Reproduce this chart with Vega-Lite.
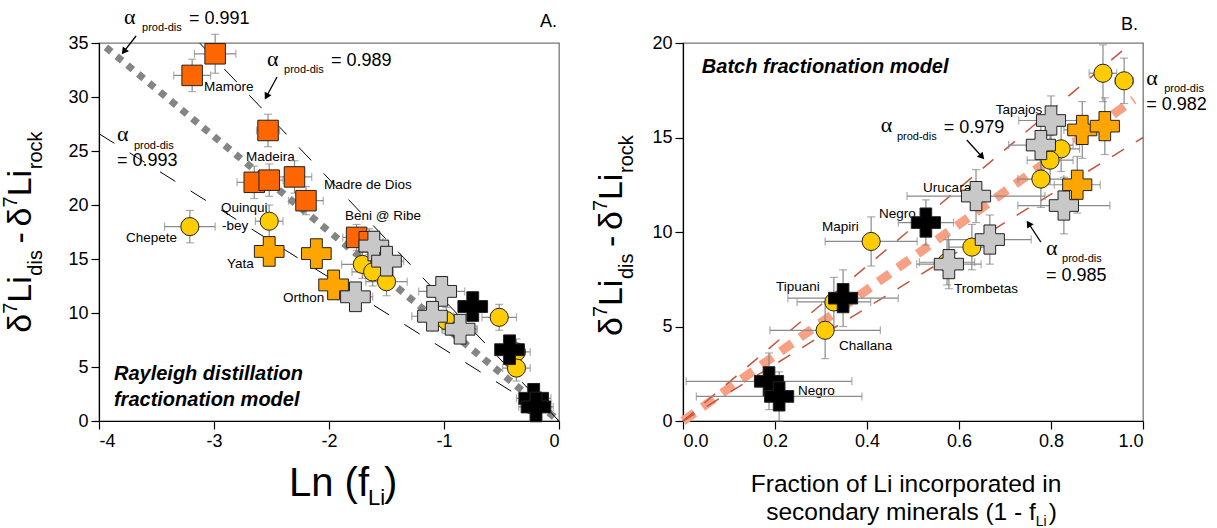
{
"$schema": "https://vega.github.io/schema/vega-lite/v6.json",
"background": "white",
"padding": {"left": 0, "top": 5, "right": 5, "bottom": 0},
"config": {
  "font": "Liberation Sans",
  "view": {"stroke": "#777777", "strokeWidth": 1.3},
  "axis": {"grid": false, "domainColor": "black", "domainWidth": 1.2, "tickColor": "black", "tickWidth": 1.2, "tickSize": 8, "labelFont": "Liberation Sans", "labelFontSize": 18, "labelColor": "black", "labelPadding": 3}
},
"datasets": {
  "ptsA": [
    {"g":"sq","x":-3.19,"y":32.0,"ex":0.16,"ey":1.5},
    {"g":"sq","x":-2.99,"y":34.0,"ex":0.18,"ey":1.8},
    {"g":"sq","x":-2.53,"y":26.9,"ex":0.1,"ey":1.5},
    {"g":"sq","x":-2.65,"y":22.1,"ex":0.15,"ey":1.5},
    {"g":"sq","x":-2.52,"y":22.3,"ex":0.12,"ey":1.5},
    {"g":"sq","x":-2.30,"y":22.6,"ex":0.15,"ey":1.5},
    {"g":"sq","x":-2.20,"y":20.4,"ex":0.15,"ey":1.3},
    {"g":"sq","x":-1.76,"y":17.0,"ex":0.12,"ey":1.2},
    {"g":"sq","x":-1.65,"y":16.6,"ex":0.12,"ey":1.2},
    {"g":"ci","x":-3.21,"y":18.0,"ex":0.22,"ey":1.5},
    {"g":"ci","x":-2.52,"y":18.5,"ex":0.12,"ey":1.5},
    {"g":"ci","x":-1.71,"y":14.5,"ex":0.18,"ey":1.3},
    {"g":"ci","x":-1.62,"y":13.8,"ex":0.18,"ey":1.3},
    {"g":"ci","x":-1.50,"y":12.9,"ex":0.18,"ey":1.3},
    {"g":"ci","x":-0.98,"y":9.3,"ex":0.15,"ey":1.2},
    {"g":"ci","x":-0.87,"y":8.5,"ex":0.15,"ey":1.2},
    {"g":"ci","x":-0.52,"y":9.6,"ex":0.15,"ey":1.2},
    {"g":"ci","x":-0.37,"y":6.4,"ex":0.12,"ey":1.2},
    {"g":"ci","x":-0.37,"y":4.9,"ex":0.12,"ey":1.2},
    {"g":"oc","x":-2.52,"y":15.7,"ex":0.1,"ey":1.2},
    {"g":"oc","x":-2.11,"y":15.5,"ex":0.12,"ey":1.2},
    {"g":"oc","x":-1.96,"y":12.6,"ex":0.1,"ey":1.2},
    {"g":"gc","x":-1.77,"y":11.5,"ex":0.15,"ey":1.2},
    {"g":"gc","x":-1.61,"y":16.2,"ex":0.12,"ey":1.3},
    {"g":"gc","x":-1.50,"y":14.8,"ex":0.15,"ey":1.3},
    {"g":"gc","x":-1.02,"y":12.0,"ex":0.2,"ey":1.3},
    {"g":"gc","x":-1.10,"y":9.7,"ex":0.18,"ey":1.3},
    {"g":"gc","x":-0.86,"y":8.5,"ex":0.15,"ey":1.3},
    {"g":"bc","x":-0.75,"y":10.6,"ex":0.12,"ey":1.2},
    {"g":"bc","x":-0.43,"y":6.6,"ex":0.12,"ey":1.2},
    {"g":"bc","x":-0.22,"y":2.1,"ex":0.15,"ey":1.2},
    {"g":"bc","x":-0.20,"y":1.3,"ex":0.15,"ey":1.2}
  ],
  "ptsB": [
    {"g":"ci","x":0.913,"y":18.4,"ex":0.03,"ey":1.5},
    {"g":"ci","x":0.959,"y":18.0,"ex":0.02,"ey":1.2},
    {"g":"ci","x":0.822,"y":14.4,"ex":0.04,"ey":1.2},
    {"g":"ci","x":0.798,"y":13.8,"ex":0.05,"ey":1.3},
    {"g":"ci","x":0.778,"y":12.8,"ex":0.05,"ey":1.5},
    {"g":"ci","x":0.628,"y":9.2,"ex":0.05,"ey":1.2},
    {"g":"ci","x":0.574,"y":8.4,"ex":0.06,"ey":1.2},
    {"g":"ci","x":0.409,"y":9.5,"ex":0.10,"ey":1.3},
    {"g":"ci","x":0.328,"y":6.3,"ex":0.08,"ey":1.3},
    {"g":"ci","x":0.309,"y":4.8,"ex":0.12,"ey":1.5},
    {"g":"gc","x":0.80,"y":15.9,"ex":0.07,"ey":1.3},
    {"g":"gc","x":0.778,"y":14.6,"ex":0.07,"ey":1.3},
    {"g":"gc","x":0.637,"y":11.9,"ex":0.15,"ey":1.4},
    {"g":"gc","x":0.828,"y":11.4,"ex":0.10,"ey":1.5},
    {"g":"gc","x":0.667,"y":9.6,"ex":0.09,"ey":1.3},
    {"g":"gc","x":0.578,"y":8.3,"ex":0.07,"ey":1.3},
    {"g":"oc","x":0.868,"y":15.4,"ex":0.04,"ey":1.5},
    {"g":"oc","x":0.917,"y":15.6,"ex":0.03,"ey":1.5},
    {"g":"oc","x":0.857,"y":12.5,"ex":0.05,"ey":1.5},
    {"g":"bc","x":0.528,"y":10.5,"ex":0.06,"ey":1.2},
    {"g":"bc","x":0.348,"y":6.5,"ex":0.12,"ey":1.5},
    {"g":"bc","x":0.187,"y":2.1,"ex":0.18,"ey":1.5},
    {"g":"bc","x":0.209,"y":1.3,"ex":0.18,"ey":1.3}
  ],
  "linesA": [
    {"k":"ray","x":-3.94,"y":34.6},{"k":"ray","x":0,"y":0},
    {"k":"up","x":-3.125,"y":35},{"k":"up","x":0,"y":0},
    {"k":"lo","x":-4,"y":26.6},{"k":"lo","x":0,"y":0}
  ],
  "linesB": [
    {"k":"mid","x":0,"y":0},{"k":"mid","x":0.98,"y":17.0},
    {"k":"up","x":0,"y":0},{"k":"up","x":0.975,"y":20},
    {"k":"lo","x":0,"y":0},{"k":"lo","x":1.0,"y":15}
  ],
  "labA": [
    {"t":"Mamore","x":-3.087,"y":30.55},
    {"t":"Madeira","x":-2.722,"y":24.05},
    {"t":"Madre de Dios","x":-2.043,"y":21.45},
    {"t":"Beni @ Ribe","x":-1.861,"y":18.57},
    {"t":"Quinqui","x":-2.939,"y":19.31},
    {"t":"-bey","x":-2.930,"y":17.73},
    {"t":"Chepete","x":-3.765,"y":16.53},
    {"t":"Yata","x":-2.887,"y":14.21},
    {"t":"Orthon","x":-2.400,"y":11.05}
  ],
  "labB": [
    {"t":"Tapajos","x":0.680,"y":16.24},
    {"t":"Urucara","x":0.522,"y":12.12},
    {"t":"Negro","x":0.426,"y":10.74},
    {"t":"Mapiri","x":0.302,"y":10.05},
    {"t":"Tipuani","x":0.202,"y":6.88},
    {"t":"Challana","x":0.339,"y":3.76},
    {"t":"Trombetas","x":0.589,"y":6.77},
    {"t":"Negro","x":0.25,"y":1.38}
  ],
  "annA": [
    {"k":"a","t":"α","x":-3.783,"y":36.77},
    {"k":"a","t":"α","x":-2.539,"y":32.87},
    {"k":"a","t":"α","x":-3.843,"y":25.9},
    {"k":"s","t":"prod-dis","x":-3.626,"y":36.12},
    {"k":"s","t":"prod-dis","x":-2.391,"y":32.22},
    {"k":"s","t":"prod-dis","x":-3.696,"y":25.16},
    {"k":"v","t":"= 0.991","x":-3.217,"y":36.77},
    {"k":"v","t":"= 0.989","x":-1.983,"y":32.87},
    {"k":"v","t":"= 0.993","x":-3.843,"y":23.58},
    {"k":"m","t":"Rayleigh distillation","x":-3.870,"y":3.81},
    {"k":"m","t":"fractionation model","x":-3.870,"y":1.39},
    {"k":"L","t":"A.","x":-0.017,"y":36.49},
    {"k":"xb","t":"Ln (f","x":-2.348,"y":-6.96},
    {"k":"xb","t":")","x":-1.522,"y":-6.96},
    {"k":"xs","t":"Li","x":-1.661,"y":-7.80},
    {"k":"yb","t":"δ","x":-4.591,"y":8.17},
    {"k":"yb","t":"Li","x":-4.591,"y":10.96},
    {"k":"yb","t":"-","x":-4.591,"y":16.43},
    {"k":"yb","t":"δ","x":-4.591,"y":18.01},
    {"k":"yb","t":"Li","x":-4.591,"y":20.80},
    {"k":"ys","t":"dis","x":-4.496,"y":13.46},
    {"k":"ys","t":"rock","x":-4.496,"y":23.31},
    {"k":"ys","t":"7","x":-4.713,"y":9.94},
    {"k":"ys","t":"7","x":-4.713,"y":19.78}
  ],
  "annB": [
    {"k":"a","t":"α","x":0.430,"y":15.29},
    {"k":"a","t":"α","x":0.789,"y":8.78},
    {"k":"a","t":"α","x":1.007,"y":17.78},
    {"k":"s","t":"prod-dis","x":0.465,"y":14.87},
    {"k":"s","t":"prod-dis","x":0.824,"y":8.41},
    {"k":"s","t":"prod-dis","x":1.046,"y":17.41},
    {"k":"v","t":"= 0.979","x":0.567,"y":15.24},
    {"k":"v","t":"= 0.985","x":0.789,"y":7.41},
    {"k":"v","t":"= 0.982","x":1.007,"y":16.46},
    {"k":"m","t":"Batch fractionation model","x":0.041,"y":18.41},
    {"k":"L","t":"B.","x":0.952,"y":20.69},
    {"k":"x1","t":"Fraction of Li incorporated in","x":0.4848,"y":-3.76},
    {"k":"x2","t":"secondary minerals (1 - f","x":0.767,"y":-5.24},
    {"k":"xs","t":"Li","x":0.767,"y":-5.55},
    {"k":"x3","t":")","x":0.795,"y":-5.24},
    {"k":"yb","t":"δ","x":-0.1326,"y":4.50},
    {"k":"yb","t":"Li","x":-0.1326,"y":6.08},
    {"k":"yb","t":"-","x":-0.1326,"y":9.21},
    {"k":"yb","t":"δ","x":-0.1326,"y":10.11},
    {"k":"yb","t":"Li","x":-0.1326,"y":11.69},
    {"k":"ys","t":"dis","x":-0.1087,"y":7.51},
    {"k":"ys","t":"rock","x":-0.1087,"y":13.12},
    {"k":"ys","t":"7","x":-0.165,"y":5.50},
    {"k":"ys","t":"7","x":-0.165,"y":11.11}
  ],
  "arrA": [
    {"x":-3.678,"y":35.65,"x2":-3.784,"y2":34.21},
    {"x":-2.452,"y":31.85,"x2":-2.544,"y2":30.05}
  ],
  "arrB": [
    {"x":0.617,"y":14.87,"x2":0.650,"y2":13.98},
    {"x":0.778,"y":9.47,"x2":0.7513,"y2":10.45}
  ]
},
"resolve": {"scale": {"x": "independent", "y": "independent"}},
"bounds": "flush",
"spacing": 124,
"hconcat": [
  {
    "width": 460, "height": 378,
    "layer": [
      {"data": {"name": "linesA"}, "transform": [{"filter": "datum.k == 'ray'"}],
       "mark": {"type": "line", "color": "#858585", "strokeWidth": 7, "strokeDash": [7, 7]},
       "encoding": {
         "x": {"field": "x", "type": "quantitative", "title": null, "scale": {"domain": [-4, 0], "nice": false, "zero": false},
               "axis": {"values": [-4, -3, -2, -1, 0], "labelExpr": "datum.value < 0 ? '-' + abs(datum.value) : '' + datum.value"}},
         "y": {"field": "y", "type": "quantitative", "title": null, "scale": {"domain": [0, 35], "nice": false, "zero": false},
               "axis": {"values": [0, 5, 10, 15, 20, 25, 30, 35]}}
       }},
      {"data": {"name": "linesA"}, "transform": [{"filter": "datum.k != 'ray'"}],
       "mark": {"type": "line", "color": "black", "strokeWidth": 1, "strokeDash": [18, 18]},
       "encoding": {"x": {"field": "x", "type": "quantitative", "title": null}, "y": {"field": "y", "type": "quantitative", "title": null}, "detail": {"field": "k"}}},
      {"data": {"name": "labA"},
       "mark": {"type": "text", "align": "left", "baseline": "alphabetic", "fontSize": 13.5, "color": "black"},
       "encoding": {"x": {"field": "x", "type": "quantitative", "title": null}, "y": {"field": "y", "type": "quantitative", "title": null}, "text": {"field": "t"}}},
      {"data": {"name": "ptsA"},
       "mark": {"type": "errorbar", "ticks": {"size": 8}, "color": "#8a8a8a", "thickness": 1.2},
       "encoding": {"x": {"field": "x", "type": "quantitative", "title": null}, "xError": {"field": "ex"}, "y": {"field": "y", "type": "quantitative", "title": null}}},
      {"data": {"name": "ptsA"},
       "mark": {"type": "errorbar", "ticks": {"size": 8}, "color": "#8a8a8a", "thickness": 1.2},
       "encoding": {"y": {"field": "y", "type": "quantitative", "title": null}, "yError": {"field": "ey"}, "x": {"field": "x", "type": "quantitative", "title": null}}},
      {"data": {"name": "ptsA"}, "transform": [{"filter": "datum.g == 'sq'"}],
       "mark": {"type": "point", "shape": "square", "filled": true, "color": "#ff6600", "stroke": "#222222", "strokeWidth": 1, "opacity": 1, "size": 420},
       "encoding": {"x": {"field": "x", "type": "quantitative", "title": null}, "y": {"field": "y", "type": "quantitative", "title": null}}},
      {"data": {"name": "ptsA"}, "transform": [{"filter": "datum.g == 'ci'"}],
       "mark": {"type": "point", "shape": "circle", "filled": true, "color": "#ffcc00", "stroke": "#222222", "strokeWidth": 1, "opacity": 1, "size": 330},
       "encoding": {"x": {"field": "x", "type": "quantitative", "title": null}, "y": {"field": "y", "type": "quantitative", "title": null}}},
      {"data": {"name": "ptsA"}, "transform": [{"filter": "datum.g == 'oc' || datum.g == 'gc' || datum.g == 'bc'"}],
       "mark": {"type": "point", "shape": "cross", "filled": true, "stroke": "#222222", "strokeWidth": 1, "opacity": 1, "size": 880},
       "encoding": {"x": {"field": "x", "type": "quantitative", "title": null}, "y": {"field": "y", "type": "quantitative", "title": null},
                    "fill": {"field": "g", "type": "nominal", "scale": {"domain": ["oc", "gc", "bc"], "range": ["#ffa500", "#c8c8c8", "#000000"]}, "legend": null}}},
      {"data": {"name": "arrA"},
       "mark": {"type": "rule", "color": "black", "strokeWidth": 1.3},
       "encoding": {"x": {"field": "x", "type": "quantitative", "title": null}, "y": {"field": "y", "type": "quantitative", "title": null}, "x2": {"field": "x2"}, "y2": {"field": "y2"}}},
      {"data": {"values": [{}]},
       "mark": {"type": "point", "shape": "triangle-up", "angle": 218, "filled": true, "color": "black", "opacity": 1, "size": 60},
       "encoding": {"x": {"datum": -3.784}, "y": {"datum": 34.21}}},
      {"data": {"values": [{}]},
       "mark": {"type": "point", "shape": "triangle-up", "angle": 208.6, "filled": true, "color": "black", "opacity": 1, "size": 60},
       "encoding": {"x": {"datum": -2.544}, "y": {"datum": 30.05}}},
      {"data": {"name": "annA"}, "transform": [{"filter": "datum.k == 'a'"}],
       "mark": {"type": "text", "align": "left", "baseline": "alphabetic", "font": "Liberation Serif", "fontSize": 22, "color": "black"},
       "encoding": {"x": {"field": "x", "type": "quantitative", "title": null}, "y": {"field": "y", "type": "quantitative", "title": null}, "text": {"field": "t"}}},
      {"data": {"name": "annA"}, "transform": [{"filter": "datum.k == 's'"}],
       "mark": {"type": "text", "align": "left", "baseline": "alphabetic", "fontSize": 11, "color": "black"},
       "encoding": {"x": {"field": "x", "type": "quantitative", "title": null}, "y": {"field": "y", "type": "quantitative", "title": null}, "text": {"field": "t"}}},
      {"data": {"name": "annA"}, "transform": [{"filter": "datum.k == 'v'"}],
       "mark": {"type": "text", "align": "left", "baseline": "alphabetic", "fontSize": 18, "color": "black"},
       "encoding": {"x": {"field": "x", "type": "quantitative", "title": null}, "y": {"field": "y", "type": "quantitative", "title": null}, "text": {"field": "t"}}},
      {"data": {"name": "annA"}, "transform": [{"filter": "datum.k == 'm'"}],
       "mark": {"type": "text", "align": "left", "baseline": "alphabetic", "fontSize": 20, "fontWeight": "bold", "fontStyle": "italic", "color": "black"},
       "encoding": {"x": {"field": "x", "type": "quantitative", "title": null}, "y": {"field": "y", "type": "quantitative", "title": null}, "text": {"field": "t"}}},
      {"data": {"name": "annA"}, "transform": [{"filter": "datum.k == 'L'"}],
       "mark": {"type": "text", "align": "right", "baseline": "alphabetic", "fontSize": 18, "color": "black"},
       "encoding": {"x": {"field": "x", "type": "quantitative", "title": null}, "y": {"field": "y", "type": "quantitative", "title": null}, "text": {"field": "t"}}},
      {"data": {"name": "annA"}, "transform": [{"filter": "datum.k == 'xb'"}],
       "mark": {"type": "text", "align": "left", "baseline": "alphabetic", "fontSize": 40, "color": "black"},
       "encoding": {"x": {"field": "x", "type": "quantitative", "title": null}, "y": {"field": "y", "type": "quantitative", "title": null}, "text": {"field": "t"}}},
      {"data": {"name": "annA"}, "transform": [{"filter": "datum.k == 'xs'"}],
       "mark": {"type": "text", "align": "left", "baseline": "alphabetic", "fontSize": 22, "color": "black"},
       "encoding": {"x": {"field": "x", "type": "quantitative", "title": null}, "y": {"field": "y", "type": "quantitative", "title": null}, "text": {"field": "t"}}},
      {"data": {"name": "annA"}, "transform": [{"filter": "datum.k == 'yb'"}],
       "mark": {"type": "text", "align": "left", "baseline": "alphabetic", "angle": 270, "fontSize": 34, "color": "black"},
       "encoding": {"x": {"field": "x", "type": "quantitative", "title": null}, "y": {"field": "y", "type": "quantitative", "title": null}, "text": {"field": "t"}}},
      {"data": {"name": "annA"}, "transform": [{"filter": "datum.k == 'ys'"}],
       "mark": {"type": "text", "align": "left", "baseline": "alphabetic", "angle": 270, "fontSize": 20, "color": "black"},
       "encoding": {"x": {"field": "x", "type": "quantitative", "title": null}, "y": {"field": "y", "type": "quantitative", "title": null}, "text": {"field": "t"}}}
    ]
  },
  {
    "width": 460, "height": 378,
    "layer": [
      {"data": {"name": "linesB"}, "transform": [{"filter": "datum.k == 'mid'"}],
       "mark": {"type": "line", "color": "#f8a083", "strokeWidth": 9, "strokeDash": [14, 10]},
       "encoding": {
         "x": {"field": "x", "type": "quantitative", "title": null, "scale": {"domain": [0, 1], "nice": false, "zero": false},
               "axis": {"values": [0, 0.2, 0.4, 0.6, 0.8, 1.0], "format": ".1f"}},
         "y": {"field": "y", "type": "quantitative", "title": null, "scale": {"domain": [0, 20], "nice": false, "zero": false},
               "axis": {"values": [0, 5, 10, 15, 20]}}
       }},
      {"data": {"name": "linesB"}, "transform": [{"filter": "datum.k != 'mid'"}],
       "mark": {"type": "line", "color": "#c4553f", "strokeWidth": 1.5, "strokeDash": [14, 14]},
       "encoding": {"x": {"field": "x", "type": "quantitative", "title": null}, "y": {"field": "y", "type": "quantitative", "title": null}, "detail": {"field": "k"}}},
      {"data": {"name": "labB"},
       "mark": {"type": "text", "align": "left", "baseline": "alphabetic", "fontSize": 13.5, "color": "black"},
       "encoding": {"x": {"field": "x", "type": "quantitative", "title": null}, "y": {"field": "y", "type": "quantitative", "title": null}, "text": {"field": "t"}}},
      {"data": {"name": "ptsB"},
       "mark": {"type": "errorbar", "ticks": {"size": 8}, "color": "#8a8a8a", "thickness": 1.2},
       "encoding": {"x": {"field": "x", "type": "quantitative", "title": null}, "xError": {"field": "ex"}, "y": {"field": "y", "type": "quantitative", "title": null}}},
      {"data": {"name": "ptsB"},
       "mark": {"type": "errorbar", "ticks": {"size": 8}, "color": "#8a8a8a", "thickness": 1.2},
       "encoding": {"y": {"field": "y", "type": "quantitative", "title": null}, "yError": {"field": "ey"}, "x": {"field": "x", "type": "quantitative", "title": null}}},
      {"data": {"name": "ptsB"}, "transform": [{"filter": "datum.g == 'ci'"}],
       "mark": {"type": "point", "shape": "circle", "filled": true, "color": "#ffcc00", "stroke": "#222222", "strokeWidth": 1, "opacity": 1, "size": 330},
       "encoding": {"x": {"field": "x", "type": "quantitative", "title": null}, "y": {"field": "y", "type": "quantitative", "title": null}}},
      {"data": {"name": "ptsB"}, "transform": [{"filter": "datum.g == 'oc' || datum.g == 'gc' || datum.g == 'bc'"}],
       "mark": {"type": "point", "shape": "cross", "filled": true, "stroke": "#222222", "strokeWidth": 1, "opacity": 1, "size": 850},
       "encoding": {"x": {"field": "x", "type": "quantitative", "title": null}, "y": {"field": "y", "type": "quantitative", "title": null},
                    "fill": {"field": "g", "type": "nominal", "scale": {"domain": ["oc", "gc", "bc"], "range": ["#ffa500", "#c8c8c8", "#000000"]}, "legend": null}}},
      {"data": {"name": "arrB"},
       "mark": {"type": "rule", "color": "black", "strokeWidth": 1.3},
       "encoding": {"x": {"field": "x", "type": "quantitative", "title": null}, "y": {"field": "y", "type": "quantitative", "title": null}, "x2": {"field": "x2"}, "y2": {"field": "y2"}}},
      {"data": {"values": [{}]},
       "mark": {"type": "point", "shape": "triangle-up", "angle": 138.2, "filled": true, "color": "black", "opacity": 1, "size": 60},
       "encoding": {"x": {"datum": 0.650}, "y": {"datum": 13.98}}},
      {"data": {"values": [{}]},
       "mark": {"type": "point", "shape": "triangle-up", "angle": 326.3, "filled": true, "color": "black", "opacity": 1, "size": 60},
       "encoding": {"x": {"datum": 0.7513}, "y": {"datum": 10.45}}},
      {"data": {"name": "annB"}, "transform": [{"filter": "datum.k == 'a'"}],
       "mark": {"type": "text", "align": "left", "baseline": "alphabetic", "font": "Liberation Serif", "fontSize": 22, "color": "black"},
       "encoding": {"x": {"field": "x", "type": "quantitative", "title": null}, "y": {"field": "y", "type": "quantitative", "title": null}, "text": {"field": "t"}}},
      {"data": {"name": "annB"}, "transform": [{"filter": "datum.k == 's'"}],
       "mark": {"type": "text", "align": "left", "baseline": "alphabetic", "fontSize": 11, "color": "black"},
       "encoding": {"x": {"field": "x", "type": "quantitative", "title": null}, "y": {"field": "y", "type": "quantitative", "title": null}, "text": {"field": "t"}}},
      {"data": {"name": "annB"}, "transform": [{"filter": "datum.k == 'v'"}],
       "mark": {"type": "text", "align": "left", "baseline": "alphabetic", "fontSize": 18, "color": "black"},
       "encoding": {"x": {"field": "x", "type": "quantitative", "title": null}, "y": {"field": "y", "type": "quantitative", "title": null}, "text": {"field": "t"}}},
      {"data": {"name": "annB"}, "transform": [{"filter": "datum.k == 'm'"}],
       "mark": {"type": "text", "align": "left", "baseline": "alphabetic", "fontSize": 20, "fontWeight": "bold", "fontStyle": "italic", "color": "black"},
       "encoding": {"x": {"field": "x", "type": "quantitative", "title": null}, "y": {"field": "y", "type": "quantitative", "title": null}, "text": {"field": "t"}}},
      {"data": {"name": "annB"}, "transform": [{"filter": "datum.k == 'L'"}],
       "mark": {"type": "text", "align": "left", "baseline": "alphabetic", "fontSize": 18, "color": "black"},
       "encoding": {"x": {"field": "x", "type": "quantitative", "title": null}, "y": {"field": "y", "type": "quantitative", "title": null}, "text": {"field": "t"}}},
      {"data": {"name": "annB"}, "transform": [{"filter": "datum.k == 'x1'"}],
       "mark": {"type": "text", "align": "center", "baseline": "alphabetic", "fontSize": 24.5, "color": "black"},
       "encoding": {"x": {"field": "x", "type": "quantitative", "title": null}, "y": {"field": "y", "type": "quantitative", "title": null}, "text": {"field": "t"}}},
      {"data": {"name": "annB"}, "transform": [{"filter": "datum.k == 'x2'"}],
       "mark": {"type": "text", "align": "right", "baseline": "alphabetic", "fontSize": 24.5, "color": "black"},
       "encoding": {"x": {"field": "x", "type": "quantitative", "title": null}, "y": {"field": "y", "type": "quantitative", "title": null}, "text": {"field": "t"}}},
      {"data": {"name": "annB"}, "transform": [{"filter": "datum.k == 'x3'"}],
       "mark": {"type": "text", "align": "left", "baseline": "alphabetic", "fontSize": 24.5, "color": "black"},
       "encoding": {"x": {"field": "x", "type": "quantitative", "title": null}, "y": {"field": "y", "type": "quantitative", "title": null}, "text": {"field": "t"}}},
      {"data": {"name": "annB"}, "transform": [{"filter": "datum.k == 'xs'"}],
       "mark": {"type": "text", "align": "left", "baseline": "alphabetic", "fontSize": 14, "color": "black"},
       "encoding": {"x": {"field": "x", "type": "quantitative", "title": null}, "y": {"field": "y", "type": "quantitative", "title": null}, "text": {"field": "t"}}},
      {"data": {"name": "annB"}, "transform": [{"filter": "datum.k == 'yb'"}],
       "mark": {"type": "text", "align": "left", "baseline": "alphabetic", "angle": 270, "fontSize": 34, "color": "black"},
       "encoding": {"x": {"field": "x", "type": "quantitative", "title": null}, "y": {"field": "y", "type": "quantitative", "title": null}, "text": {"field": "t"}}},
      {"data": {"name": "annB"}, "transform": [{"filter": "datum.k == 'ys'"}],
       "mark": {"type": "text", "align": "left", "baseline": "alphabetic", "angle": 270, "fontSize": 20, "color": "black"},
       "encoding": {"x": {"field": "x", "type": "quantitative", "title": null}, "y": {"field": "y", "type": "quantitative", "title": null}, "text": {"field": "t"}}}
    ]
  }
]
}
